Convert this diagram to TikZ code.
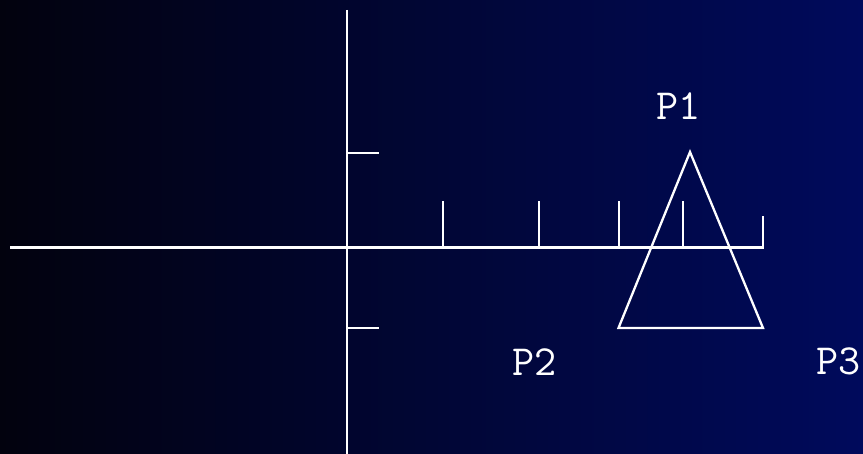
\documentclass[tikz,border=0pt]{standalone}
\usepackage{fontspec}
\definecolor{bgleft}{RGB}{2,2,14}
\definecolor{bgright}{RGB}{0,10,92}
\tikzset{
  axisline/.style={white, line width=2.3pt},
  shapeline/.style={white, line width=2.3pt, line join=miter},
  ptlabel/.style={white, inner sep=0pt, anchor=base west, font=\ttfamily\fontsize{43}{43}\selectfont},
}
\begin{document}
\begin{tikzpicture}[x=1pt,y=-1pt]
\useasboundingbox (0,0) rectangle (863,454);
\shade[left color=bgleft, right color=bgright] (0,0) rectangle (863,454);
% axes
\coordinate (xl) at (10,247.5);
\coordinate (xr) at (763,247.5);
\coordinate (yt) at (347,10);
\coordinate (yb) at (347,454);
\draw[axisline] (xl) -- (xr) -- ++(0,-31);
\draw[axisline] (yt) -- (yb);
% vertical axis ticks
\draw[axisline] (347,153) -- ++(32,0);
\draw[axisline] (347,328) -- ++(32,0);
% horizontal axis ticks
\foreach \tx in {443,539,619,683} \draw[axisline] (\tx,247.5) -- (\tx,201.5);
% triangle
\coordinate (p1) at (690,152);
\coordinate (p2) at (618.5,328);
\coordinate (p3) at (763,328);
\draw[shapeline] (p1) -- (p2) -- (p3) -- cycle;
% labels
\node[ptlabel] (l1) at (656,120) {P1};
\node[ptlabel] (l2) at (512,376) {P2};
\node[ptlabel] (l3) at (816,375) {P3};
\end{tikzpicture}
\end{document}
